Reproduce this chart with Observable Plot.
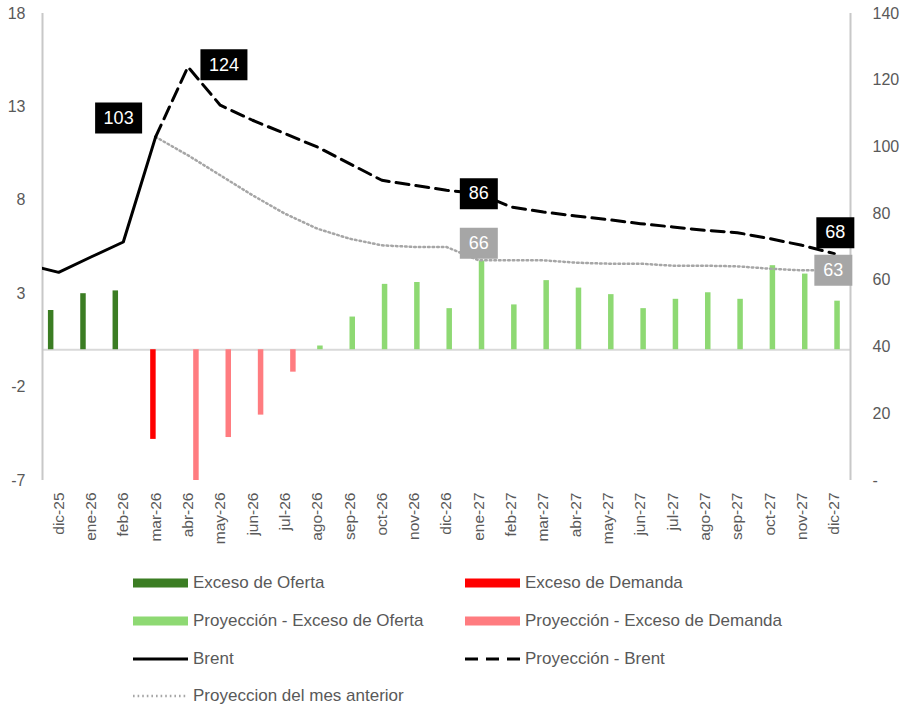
<!DOCTYPE html>
<html><head><meta charset="utf-8">
<script src="https://cdn.jsdelivr.net/npm/d3@7"></script>
<script src="https://cdn.jsdelivr.net/npm/@observablehq/plot@0.6"></script>
<style>
body{margin:0;background:#fff;font-family:"Liberation Sans",Arial,sans-serif;}
#wrap{position:relative;width:909px;height:710px;overflow:hidden;}
.item{position:absolute;display:flex;align-items:center;font-size:17px;color:#595959;white-space:nowrap;height:20px;}
.item svg{margin-right:5px;}
</style></head><body><div id="wrap"><div id="chart"></div><div id="legend"></div></div>
<script>
// ---- data ----
const months = ["dic-25","ene-26","feb-26","mar-26","abr-26","may-26","jun-26","jul-26","ago-26","sep-26","oct-26","nov-26","dic-26",
  "ene-27","feb-27","mar-27","abr-27","may-27","jun-27","jul-27","ago-27","sep-27","oct-27","nov-27","dic-27"];
// balance (left axis), one value per month
const balance = [2.1, 3.0, 3.15, -4.8, -7.0, -4.7, -3.5, -1.2, 0.2, 1.75, 3.5, 3.6, 2.2,
  4.75, 2.4, 3.7, 3.3, 2.95, 2.2, 2.7, 3.05, 2.7, 4.5, 4.05, 2.6];
// series of each bar
const balanceSeries = ["Exceso de Oferta","Exceso de Oferta","Exceso de Oferta","Exceso de Demanda",
  "Proyección - Exceso de Demanda","Proyección - Exceso de Demanda","Proyección - Exceso de Demanda","Proyección - Exceso de Demanda",
  ...Array(17).fill("Proyección - Exceso de Oferta")];
// Brent (right axis); the first value is the month before the visible range
const brentMonths = ["nov-25","dic-25","ene-26","feb-26","mar-26"];
const brent = [64.8, 62.4, 67, 71.5, 103];
const projMonths = months.slice(3);
const projBrent = [103, 124, 112.5, 108, 104, 100, 95, 90, 88.5, 87, 86, 82, 80.5, 79.3, 78.2, 77, 76, 75, 74.3, 72.5, 70.5, 68];
const prevProj = [103, 97.5, 91.5, 85.5, 80, 75.5, 72.5, 70.5, 70, 70, 66, 66, 66, 65.3, 65, 65, 64.4, 64.4, 64.2, 63.5, 63, 63];
const leftTicks = [-7, -2, 3, 8, 13, 18];
const rightTicks = [0, 20, 40, 60, 80, 100, 120, 140];
const labelMonths = ["mar-26","abr-26","ene-27","dic-27","ene-27","dic-27"];
const labelSeries = ["Brent","Proyección - Brent","Proyección - Brent","Proyección - Brent","Proyeccion del mes anterior","Proyeccion del mes anterior"];

// ---- styles ----
const colors = {
  "Exceso de Oferta": "#3b7d23",
  "Exceso de Demanda": "#ff0000",
  "Proyección - Exceso de Oferta": "#8ed973",
  "Proyección - Exceso de Demanda": "#ff7c80"
};
const barOffset = {"Exceso de Oferta": -8, "Exceso de Demanda": -2.7, "Proyección - Exceso de Oferta": 2.7, "Proyección - Exceso de Demanda": 8};
const labelStyle = [
  {dx: -37, dy: -19, fill: "#000"},
  {dx: 36, dy: -2, fill: "#000"},
  {dx: 0, dy: 0, fill: "#000"},
  {dx: 1, dy: -21, fill: "#000"},
  {dx: 0, dy: -17, fill: "#a6a6a6"},
  {dx: -1, dy: 0, fill: "#a6a6a6"}
];
const dotted = "1.6,3";

// ---- build ----
const idx = m => m === "nov-25" ? -1 : months.indexOf(m);
const toLeft = v => -7 + v * 25 / 140;
const fromLeft = y => (y + 7) * 140 / 25;

const bars = months.map((m, i) => ({i, v: balance[i], s: balanceSeries[i]}));
const brentData = brentMonths.map((m, k) => ({i: idx(m), y: toLeft(brent[k])}));
const projData = projMonths.map((m, k) => ({i: idx(m), y: toLeft(projBrent[k])}));
const prevData = projMonths.map((m, k) => ({i: idx(m), y: toLeft(prevProj[k])}));
const seriesLookup = {
  "Brent": m => brent[brentMonths.indexOf(m)],
  "Proyección - Brent": m => projBrent[projMonths.indexOf(m)],
  "Proyeccion del mes anterior": m => prevProj[projMonths.indexOf(m)]
};
const labels = labelMonths.map((m, k) => {
  const v = seriesLookup[labelSeries[k]](m);
  return {i: idx(m), y: toLeft(v), text: String(Math.round(v)), ...labelStyle[k]};
});
const box = (w, h) => ({draw(ctx) { ctx.rect(-w / 2, -h / 2, w, h); }});

const barMarks = Object.keys(colors).map(s =>
  Plot.ruleX(bars.filter(d => d.s === s), {x: "i", y1: 0, y2: "v", stroke: colors[s], strokeWidth: 5.5, dx: barOffset[s]}));

const labelMarks = labels.flatMap(d => [
  Plot.dot([d], {x: "i", y: "y", dx: d.dx, dy: d.dy, symbol: box(d.text.length > 2 ? 47 : 38, 31), fill: d.fill, stroke: null}),
  Plot.text([d], {x: "i", y: "y", dx: d.dx, dy: d.dy, text: "text", fill: "#fff", fontSize: 18})
]);

const chart = Plot.plot({
  width: 909, height: 560,
  marginLeft: 42, marginRight: 59, marginTop: 13, marginBottom: 80,
  x: {type: "linear", domain: [-0.5, 24.5]},
  y: {domain: [-7, 18]},
  style: {fontFamily: '"Liberation Sans", Arial, sans-serif', color: "#595959", background: "#fff", overflow: "visible"},
  marks: [
    Plot.ruleY([0], {stroke: "#d9d9d9", strokeWidth: 2}),
    Plot.ruleX([-0.5, 24.5], {stroke: "#c8c8c8", strokeWidth: 2}),
    ...barMarks,
    Plot.line(prevData, {x: "i", y: "y", stroke: "#a6a6a6", strokeWidth: 2.5, strokeDasharray: dotted}),
    Plot.line(projData, {x: "i", y: "y", stroke: "#000", strokeWidth: 3, strokeDasharray: "13,7"}),
    Plot.line(brentData, {x: "i", y: "y", stroke: "#000", strokeWidth: 3, clip: true}),
    ...labelMarks,
    Plot.axisY(leftTicks, {anchor: "left", tickSize: 0, tickPadding: 17, fontSize: 16, label: null,
      tickFormat: d => String(d)}),
    Plot.axisY(rightTicks.map(toLeft), {anchor: "right", tickSize: 0, tickPadding: 22, fontSize: 16, label: null,
      tickFormat: d => { const v = Math.round(fromLeft(d)); return v === 0 ? "-" : String(v); }}),
    Plot.axisX(d3.range(months.length), {anchor: "bottom", tickSize: 0, tickPadding: 12, tickRotate: -90, fontSize: 15.5, label: null,
      tickFormat: i => months[i]})
  ]
});
document.getElementById("chart").appendChild(chart);

// ---- legend ----
const legendItems = [
  {label: "Exceso de Oferta", kind: "bar", color: colors["Exceso de Oferta"], col: 0, row: 0},
  {label: "Exceso de Demanda", kind: "bar", color: colors["Exceso de Demanda"], col: 1, row: 0},
  {label: "Proyección - Exceso de Oferta", kind: "bar", color: colors["Proyección - Exceso de Oferta"], col: 0, row: 1},
  {label: "Proyección - Exceso de Demanda", kind: "bar", color: colors["Proyección - Exceso de Demanda"], col: 1, row: 1},
  {label: "Brent", kind: "line", color: "#000", dash: null, col: 0, row: 2},
  {label: "Proyección - Brent", kind: "line", color: "#000", dash: "13,8", col: 1, row: 2},
  {label: "Proyeccion del mes anterior", kind: "line", color: "#a6a6a6", dash: dotted, w: 2.5, col: 0, row: 3}
];
const colX = [133, 465];
const rowY = [583, 621, 659, 696];
const legend = document.getElementById("legend");
for (const it of legendItems) {
  const div = document.createElement("div");
  div.className = "item";
  div.style.left = colX[it.col] + "px";
  div.style.top = (rowY[it.row] - 10) + "px";
  const sw = it.kind === "bar"
    ? `<svg width="55" height="14"><rect x="0" y="2.5" width="55" height="9" fill="${it.color}"/></svg>`
    : `<svg width="55" height="14"><line x1="0" x2="55" y1="7" y2="7" stroke="${it.color}" stroke-width="${it.w || 3}" ${it.dash ? `stroke-dasharray="${it.dash}"` : ""}/></svg>`;
  div.innerHTML = sw + `<span>${it.label}</span>`;
  legend.appendChild(div);
}
</script></body></html>
